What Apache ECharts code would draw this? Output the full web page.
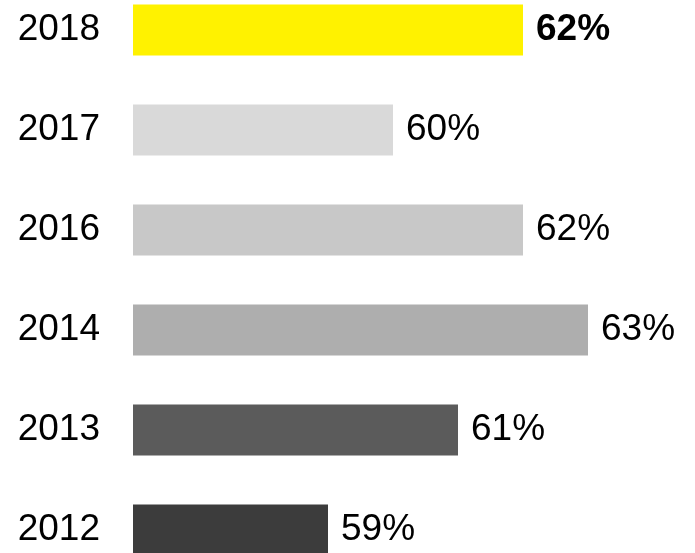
<!DOCTYPE html>
<html>
<head>
<meta charset="utf-8">
<script src="https://cdn.jsdelivr.net/npm/echarts@6/dist/echarts.min.js"></script>
<style>
  html, body { margin: 0; padding: 0; background: #fff; }
  #chart { width: 695px; height: 553px; }
</style>
</head>
<body>
<div id="chart"></div>
<script>
// Survey years, top to bottom
const years = ['2018', '2017', '2016', '2014', '2013', '2012'];
// Share in percent for each year
const shares = [62, 60, 62, 63, 61, 59];
// Bar fill per year
const barColors = ['#FFF200', '#D9D9D9', '#C8C8C8', '#AEAEAE', '#5B5B5B', '#3C3C3C'];
// Which year is highlighted with a bold label
const highlightYear = '2018';

const FONT = '"Liberation Sans", Arial, Helvetica, sans-serif';

const chart = echarts.init(document.getElementById('chart'), null, { renderer: 'canvas' });

chart.setOption({
  animation: false,
  backgroundColor: '#ffffff',
  grid: {
    left: 133,
    right: 42,
    top: -20,
    bottom: -27,
    containLabel: false,
    outerBoundsMode: 'none'
  },
  xAxis: {
    type: 'value',
    min: 56,
    max: 64,
    show: false,
    splitLine: { show: false }
  },
  yAxis: {
    type: 'category',
    data: years,
    inverse: true,
    axisLine: { show: false },
    axisTick: { show: false },
    splitLine: { show: false },
    axisLabel: {
      margin: 33,
      fontFamily: FONT,
      fontSize: 37,
      color: '#000'
    }
  },
  series: [{
    type: 'bar',
    barWidth: 51,
    data: shares.map((v, i) => ({
      value: v,
      itemStyle: { color: barColors[i] },
      label: { fontWeight: years[i] === highlightYear ? 'bold' : 'normal' }
    })),
    label: {
      show: true,
      position: 'right',
      distance: 13,
      formatter: p => p.value + '%',
      fontFamily: FONT,
      fontSize: 37,
      color: '#000'
    }
  }]
});
</script>
</body>
</html>
